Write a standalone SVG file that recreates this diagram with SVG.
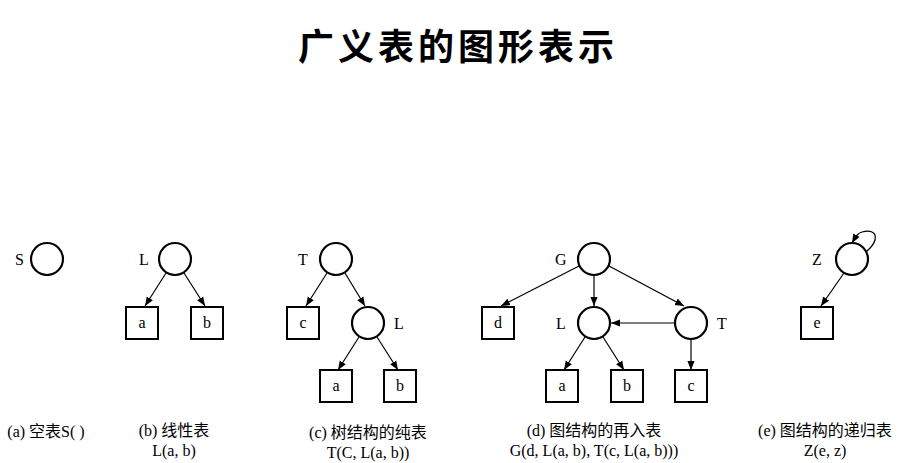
<svg xmlns="http://www.w3.org/2000/svg" width="916" height="463" viewBox="0 0 916 463">
<defs>
<marker id="ar" viewBox="0 0 10 10" refX="10" refY="5" markerWidth="9" markerHeight="9" markerUnits="userSpaceOnUse" orient="auto"><path d="M0,1 L10,5 L0,9 Z" fill="#000"/></marker>
</defs>
<style>
circle{fill:#fff;stroke:#000;stroke-width:2.2}
.n rect{fill:#fff;stroke:#000;stroke-width:2}
.c line,.c path{stroke:#000;stroke-width:1.2;fill:none;marker-end:url(#ar)}
text{font-family:"Liberation Serif","Noto Sans CJK SC",serif;font-size:16px;fill:#000}
.m{text-anchor:middle}
.cap{font-size:16px;text-anchor:middle}
.t{font-family:"Noto Sans CJK SC",sans-serif;font-size:36px;font-weight:bold;text-anchor:middle;letter-spacing:4px}
</style>
<rect width="916" height="463" fill="#fff"/>
<text class="t" x="458" y="60">广义表的图形表示</text>
<g class="c" id="connectors">
<line x1="166" y1="273" x2="145" y2="306"/>
<line x1="184" y1="273" x2="205" y2="306"/>
<line x1="327" y1="273" x2="306" y2="306"/>
<line x1="345" y1="273" x2="365" y2="306"/>
<line x1="359" y1="337" x2="338" y2="370"/>
<line x1="377" y1="337" x2="398" y2="370"/>
<line x1="579" y1="266" x2="501" y2="306"/>
<line x1="594" y1="275" x2="594" y2="306"/>
<line x1="609" y1="266" x2="684" y2="306"/>
<line x1="675" y1="323" x2="611" y2="323"/>
<line x1="585" y1="337" x2="564" y2="370"/>
<line x1="603" y1="337" x2="624" y2="370"/>
<line x1="691" y1="339" x2="691" y2="370"/>
<line x1="844" y1="273" x2="821" y2="306"/>
<path d="M866,252 C880,240 878,228 862,232 C858,233 856,236 852,243"/>
</g>
<g class="n">
<g id="S"><circle cx="47" cy="259" r="16"/><text x="15" y="265">S</text></g>
<g id="L1"><circle cx="175" cy="259" r="16"/><text x="139" y="265">L</text></g>
<g id="a1"><rect x="126" y="307" width="32" height="32"/><text class="m" x="142" y="328">a</text></g>
<g id="b1"><rect x="191" y="307" width="32" height="32"/><text class="m" x="207" y="328">b</text></g>
<g id="T2"><circle cx="336" cy="259" r="16"/><text x="298" y="265">T</text></g>
<g id="c2"><rect x="287" y="307" width="32" height="32"/><text class="m" x="303" y="328">c</text></g>
<g id="L2"><circle cx="368" cy="323" r="16"/><text x="394" y="329">L</text></g>
<g id="a2"><rect x="320" y="370" width="32" height="32"/><text class="m" x="336" y="391">a</text></g>
<g id="b2"><rect x="384" y="370" width="32" height="32"/><text class="m" x="400" y="391">b</text></g>
<g id="G"><circle cx="594" cy="259" r="16"/><text x="555" y="265">G</text></g>
<g id="d"><rect x="482" y="307" width="32" height="32"/><text class="m" x="498" y="328">d</text></g>
<g id="L3"><circle cx="594" cy="323" r="16"/><text x="556" y="329">L</text></g>
<g id="T3"><circle cx="691" cy="323" r="16"/><text x="717" y="329">T</text></g>
<g id="a3"><rect x="546" y="370" width="32" height="32"/><text class="m" x="562" y="391">a</text></g>
<g id="b3"><rect x="611" y="370" width="32" height="32"/><text class="m" x="627" y="391">b</text></g>
<g id="c3"><rect x="675" y="370" width="32" height="32"/><text class="m" x="691" y="391">c</text></g>
<g id="Z"><circle cx="852" cy="259" r="16"/><text x="812" y="265">Z</text></g>
<g id="e"><rect x="801" y="307" width="32" height="32"/><text class="m" x="817" y="328">e</text></g>
</g>
<g id="captions">
<text class="cap" x="46" y="437">(a) 空表S( )</text>
<text class="cap" x="174" y="436">(b) 线性表</text>
<text class="cap" x="174" y="456">L(a, b)</text>
<text class="cap" x="368" y="438">(c) 树结构的纯表</text>
<text class="cap" x="368" y="458">T(C, L(a, b))</text>
<text class="cap" x="594" y="436">(d) 图结构的再入表</text>
<text class="cap" x="594" y="456">G(d, L(a, b), T(c, L(a, b)))</text>
<text class="cap" x="825" y="436">(e) 图结构的递归表</text>
<text class="cap" x="825" y="456">Z(e, z)</text>
</g>
</svg>
